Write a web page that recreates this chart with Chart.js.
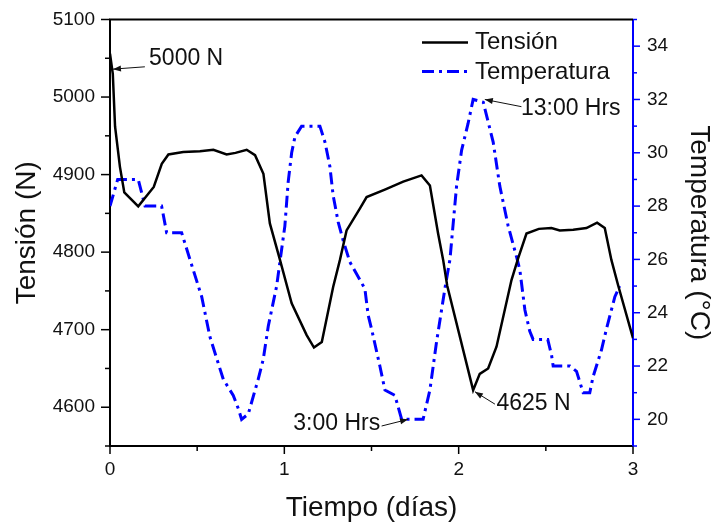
<!DOCTYPE html>
<html>
<head>
<meta charset="utf-8">
<script src="https://cdn.jsdelivr.net/npm/chart.js@4/dist/chart.umd.min.js"></script>
<style>
  html, body { margin: 0; padding: 0; background: #fff; }
  canvas { display: block; }
</style>
</head>
<body>
<canvas id="c" width="714" height="523"></canvas>
<script>
// --- Data ---
const tensionDays = [0, 0.016, 0.029, 0.057, 0.082, 0.162, 0.251, 0.297, 0.335, 0.42, 0.516, 0.593, 0.669, 0.72, 0.784, 0.832, 0.88, 0.917, 0.975, 1.042, 1.128, 1.17, 1.215, 1.28, 1.319, 1.357, 1.433, 1.472, 1.58, 1.682, 1.787, 1.835, 1.882, 1.911, 1.934, 2.083, 2.121, 2.169, 2.217, 2.303, 2.341, 2.389, 2.46, 2.532, 2.58, 2.657, 2.733, 2.794, 2.838, 2.876, 2.915, 3.0];
const tensionValues = [5056, 5030, 4962, 4910, 4877, 4859, 4884, 4914, 4926, 4929, 4930, 4932, 4926, 4928, 4932, 4925, 4901, 4837, 4790, 4734, 4693, 4677, 4684, 4755, 4790, 4828, 4856, 4871, 4881, 4891, 4899, 4886, 4824, 4790, 4757, 4622, 4643, 4650, 4678, 4764, 4792, 4824, 4830, 4831, 4828, 4829, 4831, 4838, 4831, 4790, 4757, 4689];

const tempDays = [0, 0.044, 0.162, 0.201, 0.296, 0.325, 0.411, 0.43, 0.468, 0.526, 0.573, 0.621, 0.65, 0.707, 0.736, 0.755, 0.793, 0.85, 0.879, 0.908, 0.956, 0.985, 1.003, 1.022, 1.042, 1.061, 1.099, 1.204, 1.233, 1.261, 1.28, 1.309, 1.338, 1.376, 1.462, 1.481, 1.5, 1.548, 1.577, 1.634, 1.673, 1.796, 1.835, 1.873, 1.921, 1.95, 1.988, 2.017, 2.054, 2.083, 2.141, 2.198, 2.236, 2.284, 2.332, 2.351, 2.38, 2.408, 2.427, 2.511, 2.533, 2.542, 2.638, 2.676, 2.695, 2.714, 2.752, 2.771, 2.819, 2.848, 2.896, 2.924];
const tempValues = [28, 29, 29, 28, 28, 27, 27, 26.6, 25.8, 24.6, 23.1, 22.1, 21.5, 20.9, 20.4, 20, 20.2, 21.5, 22.25, 23.5, 25, 26.4, 27.25, 28.9, 30, 30.6, 31, 31, 30.4, 29.5, 28.4, 27.4, 26.7, 25.9, 24.9, 23.9, 23.4, 22, 21.1, 20.9, 20, 20, 21.1, 22.9, 24.9, 26, 28.75, 30.1, 31.1, 32, 31.9, 30.4, 28.75, 27.25, 26.1, 25.6, 24.1, 23.3, 23, 23, 22.4, 22, 22, 21.8, 21.4, 21, 21, 21.6, 22.6, 23.4, 24.6, 25];

const seriesNames = ['Tensión', 'Temperatura'];

// annotations: text, axis, text anchor, arrow start, arrow tip (data coords)
const noteTexts = ['5000 N', '13:00 Hrs', '3:00 Hrs', '4625 N'];
const noteAxes = ['y', 'y1', 'y1', 'y'];
const noteAt = [[0.224, 5049], [2.357, 31.66], [1.051, 19.82], [2.217, 4605]];
const noteFrom = [[0.2, 5039], [2.36, 31.73], [1.558, 19.75], [2.208, 4604]];
const noteTip = [[0.017, 5036], [2.15, 32.0], [1.71, 20.0], [2.093, 4620]];

const FONT = "'Liberation Sans', Arial, sans-serif";
const BLUE = '#0000ff';
const TEMP_DASH = [12, 5, 3, 5];

const toPts = (xs, ys) => xs.map((x, i) => ({ x, y: ys[i] }));

// --- Extra drawing: frame, ticks, legend, annotations ---
function drawTicks(ctx, scale, side, major, minor, color) {
  ctx.save();
  ctx.strokeStyle = color;
  ctx.lineWidth = 1.5;
  scale.ticks.forEach(t => {
    const isMajor = scale.id === 'x' ? Number.isInteger(t.value)
      : scale.id === 'y' ? t.value % 100 === 0 : t.value % 2 === 0;
    const len = isMajor ? major : minor;
    const p = scale.getPixelForValue(t.value);
    ctx.beginPath();
    if (side === 'bottom') { ctx.moveTo(p, scale.top); ctx.lineTo(p, scale.top + len); }
    if (side === 'left') { ctx.moveTo(scale.right, p); ctx.lineTo(scale.right - len, p); }
    if (side === 'right') { ctx.moveTo(scale.left, p); ctx.lineTo(scale.left + len, p); }
    ctx.stroke();
  });
  ctx.restore();
}

function arrow(ctx, x1, y1, x2, y2) {
  const ang = Math.atan2(y2 - y1, x2 - x1);
  ctx.beginPath();
  ctx.moveTo(x1, y1);
  ctx.lineTo(x2, y2);
  ctx.stroke();
  ctx.beginPath();
  ctx.moveTo(x2, y2);
  ctx.lineTo(x2 - 8 * Math.cos(ang) + 3 * Math.sin(ang), y2 - 8 * Math.sin(ang) - 3 * Math.cos(ang));
  ctx.lineTo(x2 - 8 * Math.cos(ang) - 3 * Math.sin(ang), y2 - 8 * Math.sin(ang) + 3 * Math.cos(ang));
  ctx.closePath();
  ctx.fill();
}

const decor = {
  id: 'decor',
  beforeDraw(chart) {
    const ctx = chart.ctx;
    ctx.save();
    ctx.fillStyle = '#fff';
    ctx.fillRect(0, 0, chart.width, chart.height);
    ctx.restore();
  },
  afterDraw(chart) {
    const { ctx, chartArea: a, scales } = chart;
    ctx.save();
    // top frame line
    ctx.strokeStyle = '#000';
    ctx.lineWidth = 2;
    ctx.beginPath();
    ctx.moveTo(a.left - 1, a.top);
    ctx.lineTo(a.right, a.top);
    ctx.stroke();
    ctx.restore();

    drawTicks(ctx, scales.x, 'bottom', 8, 5, '#000');
    drawTicks(ctx, scales.y, 'left', 9, 5, '#000');
    drawTicks(ctx, scales.y1, 'right', 7, 4, BLUE);

    // legend
    ctx.save();
    const lx0 = a.right - 211, lx1 = a.right - 165;
    ctx.lineWidth = 2.5;
    ctx.strokeStyle = '#000';
    ctx.beginPath(); ctx.moveTo(lx0, a.top + 23); ctx.lineTo(lx1, a.top + 23); ctx.stroke();
    ctx.lineWidth = 3;
    ctx.strokeStyle = BLUE;
    ctx.setLineDash(TEMP_DASH);
    ctx.beginPath(); ctx.moveTo(lx0, a.top + 52); ctx.lineTo(lx1, a.top + 52); ctx.stroke();
    ctx.setLineDash([]);
    ctx.fillStyle = '#111';
    ctx.font = '24px ' + FONT;
    ctx.textAlign = 'left';
    ctx.textBaseline = 'alphabetic';
    ctx.fillText(seriesNames[0], lx1 + 7, a.top + 29.5);
    ctx.fillText(seriesNames[1], lx1 + 7, a.top + 59.5);
    ctx.restore();

    // annotations
    ctx.save();
    ctx.font = '23px ' + FONT;
    ctx.fillStyle = '#111';
    ctx.strokeStyle = '#111';
    ctx.lineWidth = 1;
    ctx.textAlign = 'left';
    ctx.textBaseline = 'middle';
    noteTexts.forEach((txt, i) => {
      const ys = scales[noteAxes[i]];
      ctx.fillText(txt, scales.x.getPixelForValue(noteAt[i][0]), ys.getPixelForValue(noteAt[i][1]));
      arrow(ctx,
        scales.x.getPixelForValue(noteFrom[i][0]), ys.getPixelForValue(noteFrom[i][1]),
        scales.x.getPixelForValue(noteTip[i][0]), ys.getPixelForValue(noteTip[i][1]));
    });
    ctx.restore();
  }
};

const tickFont = { family: FONT, size: 19 };
// small lineHeight on vertical axes keeps Chart.js from adding extra top padding
const vTickFont = { family: FONT, size: 19, lineHeight: 0.3 };
const titleFont = { family: FONT, size: 28 };

new Chart(document.getElementById('c'), {
  type: 'line',
  data: {
    datasets: [
      {
        label: seriesNames[0], data: toPts(tensionDays, tensionValues), yAxisID: 'y',
        borderColor: '#000', borderWidth: 2.5, pointRadius: 0, tension: 0, fill: false
      },
      {
        label: seriesNames[1], data: toPts(tempDays, tempValues), yAxisID: 'y1',
        borderColor: BLUE, borderWidth: 3, borderDash: TEMP_DASH, pointRadius: 0, tension: 0, fill: false
      }
    ]
  },
  options: {
    responsive: false,
    animation: false,
    devicePixelRatio: 1,
    layout: { padding: { top: 19.5, left: 0, right: 0, bottom: 0 } },
    plugins: { legend: { display: false }, tooltip: { enabled: false } },
    scales: {
      x: {
        type: 'linear', min: 0, max: 3,
        grid: { display: false, drawTicks: false },
        border: { display: true, color: '#000', width: 2 },
        ticks: {
          stepSize: 0.5, autoSkip: false, maxRotation: 0, padding: 12, color: '#111', font: tickFont,
          callback: v => Number.isInteger(v) ? String(v) : ''
        },
        title: { display: true, text: 'Tiempo (días)', color: '#111', font: { ...titleFont, lineHeight: 1.07 }, padding: 0 },
        afterFit: s => { s.height = 77; }
      },
      y: {
        position: 'left', min: 4550, max: 5100,
        grid: { display: false, drawTicks: false },
        border: { display: true, color: '#000', width: 2 },
        ticks: {
          stepSize: 50, autoSkip: false, padding: 15, color: '#111', font: vTickFont,
          callback: v => v % 100 === 0 ? String(v) : ''
        },
        title: { display: true, text: 'Tensión (N)', color: '#111', font: titleFont, padding: { top: 10.5, bottom: 0 } },
        afterFit: s => { s.width = 110; }
      },
      y1: {
        position: 'right', min: 19, max: 35,
        grid: { display: false, drawTicks: false },
        border: { display: true, color: BLUE, width: 2 },
        ticks: {
          stepSize: 1, autoSkip: false, padding: 14, color: '#111', font: vTickFont,
          callback: v => v % 2 === 0 ? String(v) : ''
        },
        title: { display: true, text: 'Temperatura (°C)', color: '#111', font: { ...titleFont, lineHeight: 1.1 }, padding: 0 },
        afterFit: s => { s.width = 81; }
      }
    }
  },
  plugins: [decor]
});
</script>
</body>
</html>
